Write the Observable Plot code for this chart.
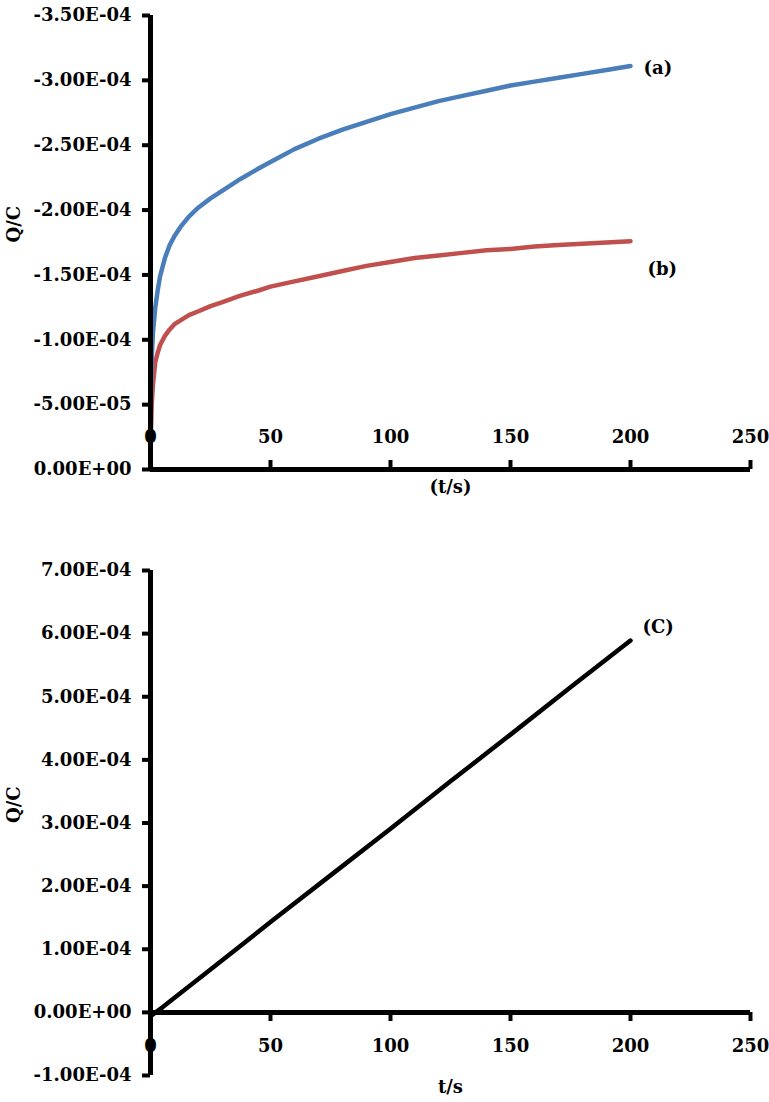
<!DOCTYPE html>
<html><head><meta charset="utf-8">
<script src="https://cdn.jsdelivr.net/npm/d3@7"></script>
<script src="https://cdn.jsdelivr.net/npm/@observablehq/plot@0.6"></script>
<style>
body{margin:0;background:#fff;}
#wrap{position:relative;width:769px;height:1102px;overflow:hidden;}
#chartTop,#chartBottom{position:absolute;left:0;}
#chartTop{top:0}
#chartBottom{top:510px}
</style></head><body><div id="wrap"><div id="chartTop"></div><div id="chartBottom"></div></div>
<script>
// time (s) for curves (a) and (b)
const timeAB = [0,0.5,1,2,3,4,6,8,10,12.5,16,20,25,30,37.5,45,50,60,70,80,90,100,110,120,130,140,150,160,170,180,190,200];
// Q/C (C) curve (a), blue
const seriesA = [-0.45e-4,-0.85e-4,-1.05e-4,-1.25e-4,-1.38e-4,-1.49e-4,-1.63e-4,-1.73e-4,-1.80e-4,-1.87e-4,-1.95e-4,-2.02e-4,-2.09e-4,-2.15e-4,-2.24e-4,-2.32e-4,-2.37e-4,-2.47e-4,-2.55e-4,-2.62e-4,-2.68e-4,-2.74e-4,-2.79e-4,-2.84e-4,-2.88e-4,-2.92e-4,-2.96e-4,-2.99e-4,-3.02e-4,-3.05e-4,-3.08e-4,-3.11e-4];
// Q/C (C) curve (b), red
const seriesB = [-0.15e-4,-0.50e-4,-0.65e-4,-0.83e-4,-0.90e-4,-0.96e-4,-1.03e-4,-1.08e-4,-1.12e-4,-1.15e-4,-1.19e-4,-1.22e-4,-1.26e-4,-1.29e-4,-1.34e-4,-1.38e-4,-1.41e-4,-1.45e-4,-1.49e-4,-1.53e-4,-1.57e-4,-1.60e-4,-1.63e-4,-1.65e-4,-1.67e-4,-1.69e-4,-1.70e-4,-1.72e-4,-1.73e-4,-1.74e-4,-1.75e-4,-1.76e-4];
// time (s) and Q/C for curve (C), black
const timeC = [0,5,10,25,50,75,100,125,150,175,200];
const seriesC = [-0.06e-4,0.08e-4,0.23e-4,0.68e-4,1.43e-4,2.17e-4,2.91e-4,3.66e-4,4.40e-4,5.15e-4,5.89e-4];

const xTicks = [0,50,100,150,200,250];
const yTicksTop = [0,-0.5e-4,-1.0e-4,-1.5e-4,-2.0e-4,-2.5e-4,-3.0e-4,-3.5e-4];
const yTicksBottom = [-1e-4,0,1e-4,2e-4,3e-4,4e-4,5e-4,6e-4,7e-4];
const curveLabels = ["(a)","(b)","(C)"];
const yTitle = "Q/C";
const xTitleTop = "(t/s)";
const xTitleBottom = "t/s";

const blue = "#4A7EBB", red = "#C0504D", black = "#000";

function sci(v){
  if (Math.abs(v) < 1e-12) v = 0;
  const [m,e] = v.toExponential(2).split("e");
  const sign = e[0] === "-" ? "-" : "+";
  return m + "E" + sign + e.replace(/^[+-]/,"").padStart(2,"0");
}

const dataA = timeAB.map((t,i)=>({t, q: seriesA[i]}));
const dataB = timeAB.map((t,i)=>({t, q: seriesB[i]}));
const dataC = timeC.map((t,i)=>({t, q: seriesC[i]}));

const plotStyle = {fontFamily:"'DejaVu Serif', serif", fontWeight:"bold", fontSize:"18px", color:"#000", background:"#fff", overflow:"visible"};

const plotTop = Plot.plot({
  width:769, height:510, marginLeft:150, marginRight:19, marginTop:15, marginBottom:41,
  style: plotStyle,
  x:{domain:[0,250]},
  y:{domain:[0,-3.5e-4]},
  marks:[
    Plot.axisY(yTicksTop,{tickFormat:sci, tickSize:8, tickPadding:11, strokeWidth:4, label:null}),
    Plot.tickX(xTicks.slice(1),{x:d=>d, strokeWidth:4, insetTop:445}),
    Plot.line(dataB,{x:"t", y:"q", stroke:red, strokeWidth:4.5}),
    Plot.line(dataA,{x:"t", y:"q", stroke:blue, strokeWidth:4.5}),
    Plot.ruleX([0],{strokeWidth:5}),
    Plot.ruleY([0],{strokeWidth:5}),
    Plot.axisX(xTicks,{tickSize:0, dy:-48, tickFormat:d=>String(d), label:null}),
    Plot.text(dataA.slice(-1),{x:"t", y:"q", text:()=>curveLabels[0], dx:13, dy:2, textAnchor:"start"}),
    Plot.text(dataB.slice(-1),{x:"t", y:"q", text:()=>curveLabels[1], dx:17, dy:28, textAnchor:"start"}),
    Plot.text([yTitle],{frameAnchor:"left", rotate:-90, dx:-136, dy:0}),
    Plot.text([xTitleTop],{frameAnchor:"bottom", dy:23})
  ]
});
document.getElementById("chartTop").appendChild(plotTop);

const plotBottom = Plot.plot({
  width:769, height:592, marginLeft:150, marginRight:19, marginTop:60, marginBottom:27,
  style: plotStyle,
  x:{domain:[0,250]},
  y:{domain:[-1e-4,7e-4]},
  marks:[
    Plot.axisY(yTicksBottom,{tickFormat:sci, tickSize:8, tickPadding:11, strokeWidth:4, label:null}),
    Plot.tickX(xTicks.slice(1),{x:d=>d, strokeWidth:4, insetTop:442, insetBottom:54}),
    Plot.ruleX([0],{strokeWidth:5}),
    Plot.ruleY([0],{strokeWidth:5}),
    Plot.line(dataC,{x:"t", y:"q", stroke:black, strokeWidth:4.5}),
    Plot.axisX(xTicks,{tickSize:0, dy:-45, tickFormat:d=>String(d), label:null}),
    Plot.text(dataC.slice(-1),{x:"t", y:"q", text:()=>curveLabels[2], dx:12, dy:-13, textAnchor:"start"}),
    Plot.text([yTitle],{frameAnchor:"left", rotate:-90, dx:-136, dy:0}),
    Plot.text([xTitleBottom],{frameAnchor:"bottom", dy:17})
  ]
});
document.getElementById("chartBottom").appendChild(plotBottom);
</script></body></html>
